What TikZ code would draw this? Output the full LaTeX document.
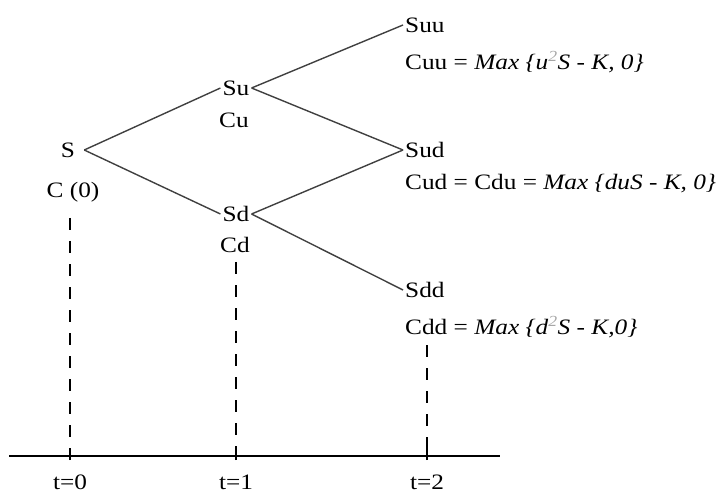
\documentclass[tikz,border=0pt]{standalone}
\usepackage{fontspec}
\setmainfont{Liberation Serif}[FakeStretch=1.15]
\begin{document}
\begin{tikzpicture}[x=1bp,y=-1bp,
  lbl/.style={inner sep=0pt,font=\fontsize{22bp}{25bp}\selectfont},
  treenode/.style={lbl,inner xsep=2bp},
  branch/.style={draw=black!75,line width=1.4bp},
  timeline/.style={dash pattern=on 12bp off 11bp,line width=1.3bp},
  axisline/.style={line width=1.9bp}]
\useasboundingbox (0,0) rectangle (723,494);
% tree nodes
\node[treenode,inner xsep=9bp] (S) at (68,150) {S};
\node[treenode] (Su) at (236,88) {Su};
\node[treenode] (Sd) at (236,214) {Sd};
\node[treenode,anchor=west] (Suu) at (403,25) {Suu};
\node[treenode,anchor=west] (Sud) at (403,150) {Sud};
\node[treenode,anchor=west] (Sdd) at (403,290) {Sdd};
% option values
\node[lbl] (C0) at (73,192) {C (0)};
\node[lbl] (Cu) at (234,120) {Cu};
\node[lbl] (Cd) at (235,245) {Cd};
\node[lbl,anchor=west] (Cuu) at (405,62) {Cuu = \textit{Max \{u\textsuperscript{\textcolor{black!35}{2}}S - K, 0\}}};
\node[lbl,anchor=west] (Cud) at (405,184) {Cud = Cdu = \textit{Max \{duS - K, 0\}}};
\node[lbl,anchor=west] (Cdd) at (405,327) {Cdd = \textit{Max \{d\textsuperscript{\textcolor{black!35}{2}}S - K,0\}}};
% branches
\draw[branch] (S.east) -- (Su.west);
\draw[branch] (S.east) -- (Sd.west);
\draw[branch] (Su.east) -- (Suu.west);
\draw[branch] (Su.east) -- (Sud.west);
\draw[branch] (Sd.east) -- (Sud.west);
\draw[branch] (Sd.east) -- (Sdd.west);
% axis
\coordinate (A0) at (9,456);
\coordinate (A1) at (500,456);
\draw[axisline] (A0) -- (A1);
\coordinate (T0) at (70,456);
\coordinate (T1) at (236,456);
\coordinate (T2) at (427,456);
\foreach \t in {T0,T1,T2}{
  \draw[line width=1.4bp] ([yshift=-4bp]\t) -- ([yshift=8bp]\t);
}
\node[lbl] (L0) at (70,482) {t=0};
\node[lbl] (L1) at (236,482) {t=1};
\node[lbl] (L2) at (427,482) {t=2};
% dashed time lines
\coordinate (D0) at (70,218);
\coordinate (D1) at (236,262);
\coordinate (D2) at (427,345);
\draw[timeline] (D0) -- (T0);
\draw[timeline] (D1) -- (T1);
\draw[timeline] (D2) -- (T2);
\end{tikzpicture}
\end{document}
